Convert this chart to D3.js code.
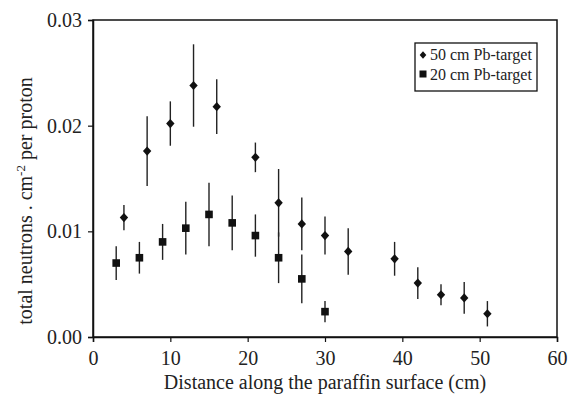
<!DOCTYPE html>
<html><head><meta charset="utf-8">
<script src="https://cdn.jsdelivr.net/npm/d3@7"></script>
<style>body{margin:0;background:#fff}svg{display:block}</style>
</head><body><svg id="c" width="568" height="396"></svg>
<script>
const x50 = [4,7,10,13,16,21,24,27,30,33,39,42,45,48,51];
const y50 = [0.0113,0.0176,0.0202,0.0238,0.0218,0.0170,0.0127,0.0107,0.0096,0.0081,0.0074,0.0051,0.0040,0.0037,0.0022];
const e50 = [0.0012,0.0033,0.0021,0.0039,0.0026,0.0014,0.0032,0.0025,0.0018,0.0022,0.0016,0.0015,0.0010,0.0015,0.0012];
const x20 = [3,6,9,12,15,18,21,24,27,30];
const y20 = [0.0070,0.0075,0.0090,0.0103,0.0116,0.0108,0.0096,0.0075,0.0055,0.0024];
const e20 = [0.0016,0.0015,0.0017,0.0025,0.0030,0.0026,0.0020,0.0024,0.0023,0.0010];
const xTicks = [0,10,20,30,40,50,60];
const yTicks = [0,0.01,0.02,0.03];
const seriesNames = ["50 cm Pb-target","20 cm Pb-target"];

const svg = d3.select("#c");
const font = "'Liberation Serif','Times New Roman',serif";
const L=93, R=557, T=20, B=337;
const x = d3.scaleLinear().domain([0,60]).range([L,R]);
const y = d3.scaleLinear().domain([0,0.03]).range([B,T]);
const ink = "#111";

// frame
svg.append("rect").attr("x",L).attr("y",T).attr("width",R-L).attr("height",B-T)
  .attr("fill","none").attr("stroke",ink).attr("stroke-width",1.5);

const xa = svg.append("g").attr("transform",`translate(0,${B})`)
  .call(d3.axisBottom(x).tickValues(xTicks).tickFormat(d3.format("d")).tickSize(5).tickPadding(9));
const ya = svg.append("g").attr("transform",`translate(${L},0)`)
  .call(d3.axisLeft(y).tickValues(yTicks).tickFormat(d3.format(".2f")).tickSize(5).tickPadding(6));
[xa,ya].forEach(a=>{
  a.select(".domain").attr("stroke",ink).attr("stroke-width",1.5);
  a.selectAll(".tick line").attr("stroke",ink).attr("stroke-width",1.2);
  a.selectAll("text").attr("font-family",font).attr("font-size",20).attr("fill","#222");
});

// error bars
function bars(xs,ys,es){
  svg.append("g").selectAll("line").data(xs).join("line")
    .attr("x1",(d)=>x(d)).attr("x2",(d)=>x(d))
    .attr("y1",(d,i)=>y(ys[i]+es[i])).attr("y2",(d,i)=>y(ys[i]-es[i]))
    .attr("stroke","#222").attr("stroke-width",1.4);
}
bars(x50,y50,e50);
bars(x20,y20,e20);

const dia = (w,h)=>`M0,${-h}L${w},0L0,${h}L${-w},0Z`;
svg.append("g").selectAll("path").data(x50).join("path")
  .attr("d",dia(4.2,4.6))
  .attr("transform",(d,i)=>`translate(${x(d)},${y(y50[i])})`).attr("fill",ink);
svg.append("g").selectAll("rect").data(x20).join("rect")
  .attr("x",d=>x(d)-3.8).attr("y",(d,i)=>y(y20[i])-3.8)
  .attr("width",7.6).attr("height",7.6).attr("fill",ink);

// legend
const lg = svg.append("g");
lg.append("rect").attr("x",415).attr("y",43).attr("width",122).attr("height",48)
  .attr("fill","#fff").attr("stroke",ink).attr("stroke-width",1.3);
lg.append("path").attr("d",dia(3.3,3.8)).attr("transform","translate(423,55)").attr("fill",ink);
lg.append("rect").attr("x",419.5).attr("y",70.5).attr("width",7).attr("height",7).attr("fill",ink);
lg.selectAll("text").data(seriesNames).join("text")
  .attr("x",430).attr("y",(d,i)=>60+i*19.5)
  .attr("font-family",font).attr("font-size",16).attr("fill","#222").text(d=>d);

// titles
svg.append("text").attr("x",(L+R)/2).attr("y",389).attr("text-anchor","middle")
  .attr("font-family",font).attr("font-size",20).attr("fill","#222")
  .text("Distance along the paraffin surface (cm)");
const yt = svg.append("text").attr("transform","translate(32,201) rotate(-90)")
  .attr("text-anchor","middle").attr("font-family",font).attr("font-size",20).attr("fill","#222");
yt.append("tspan").text("total neutrons . cm");
yt.append("tspan").attr("font-size",13).attr("dy",-7).text("-2");
yt.append("tspan").attr("dy",7).text(" per proton");
</script></body></html>
